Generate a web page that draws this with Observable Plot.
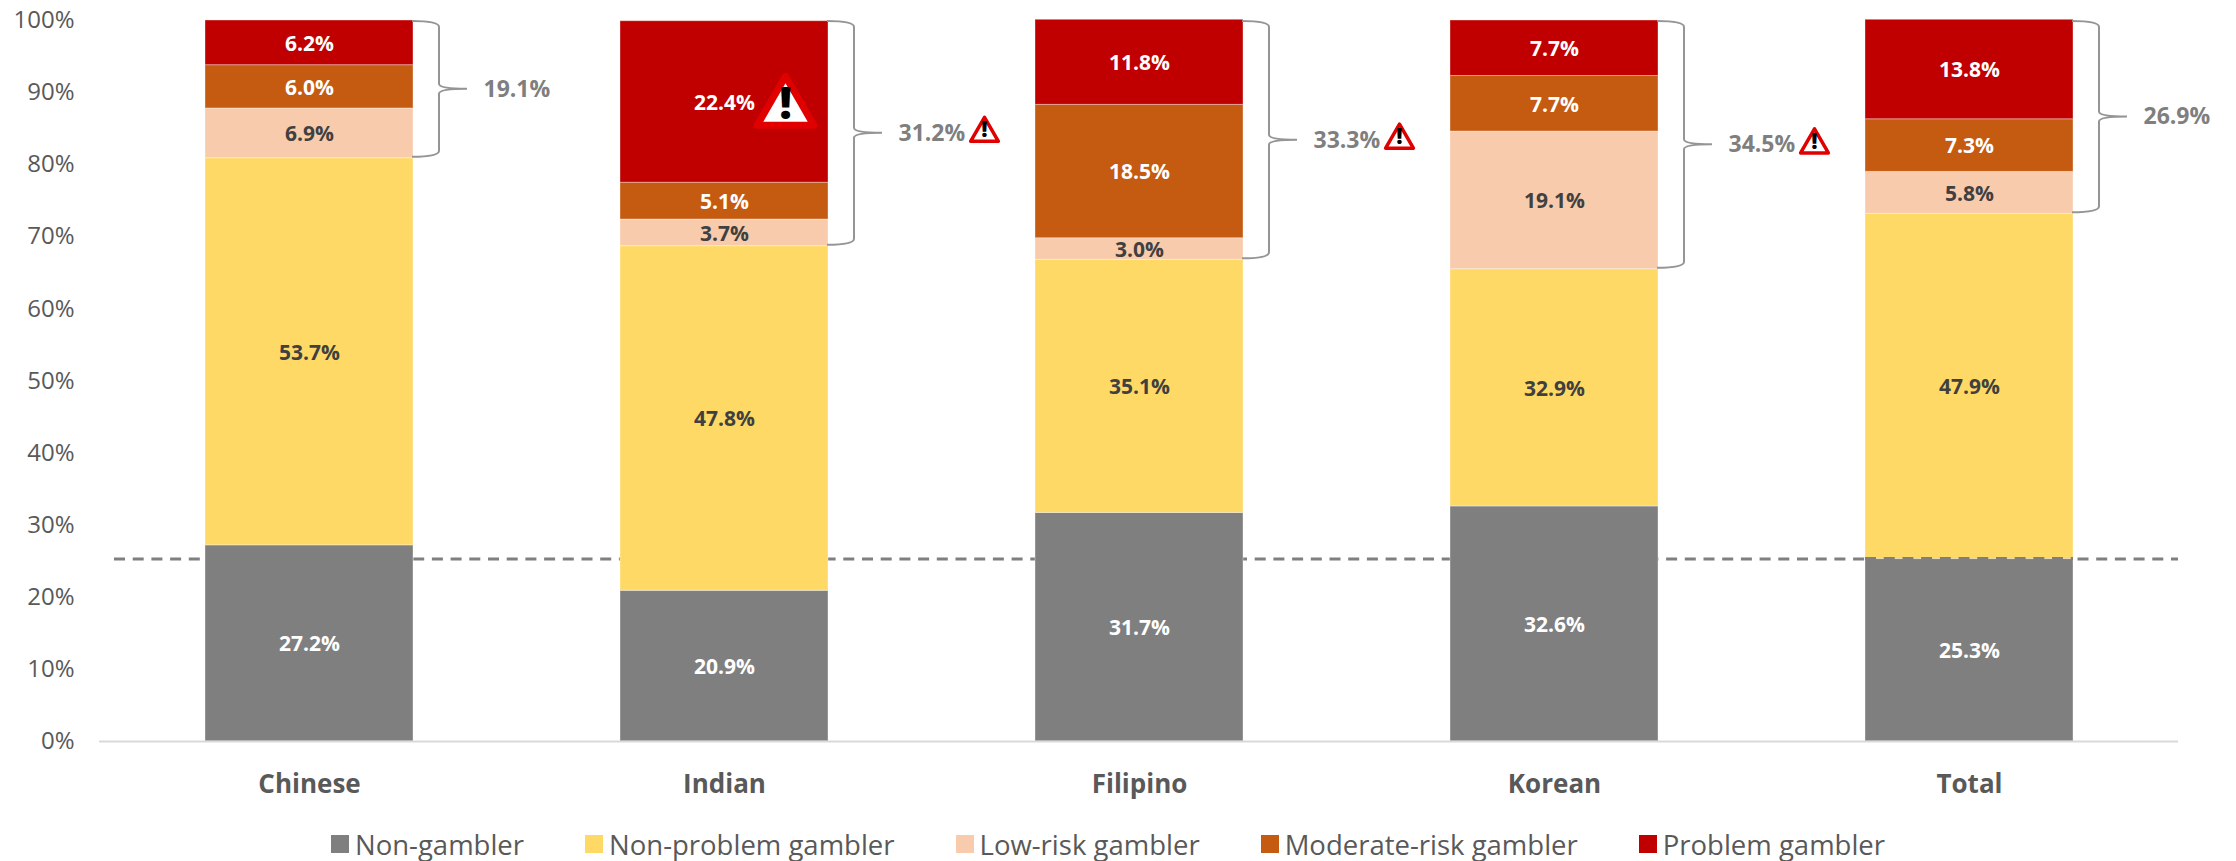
<!DOCTYPE html>
<html><head><meta charset="utf-8">
<script src="https://cdn.jsdelivr.net/npm/d3@7"></script>
<script src="https://cdn.jsdelivr.net/npm/@observablehq/plot@0.6"></script>
<style>
html,body{margin:0;padding:0;background:#fff;overflow:hidden}
#legend{display:flex;justify-content:center;gap:61px;font:27.5px "Open Sans",sans-serif;color:#595959;height:46px;align-items:center;padding-right:20px}
#legend span.i{display:flex;align-items:center;gap:6px}
#legend i{display:inline-block;width:18px;height:18px}
svg{display:block}
</style></head><body>
<div id="chart"></div><div id="legend"></div>
<script>
const groups = ["Chinese","Indian","Filipino","Korean","Total"];
const categories = ["Non-gambler","Non-problem gambler","Low-risk gambler","Moderate-risk gambler","Problem gambler"];
const colors = ["#7f7f7f","#ffd966","#f8cbad","#c55a11","#c00000"];
const labelColors = ["#fff","#404040","#404040","#fff","#fff"];
const nonGambler = [27.2,20.9,31.7,32.6,25.3];
const nonProblem = [53.7,47.8,35.1,32.9,47.9];
const lowRisk = [6.9,3.7,3.0,19.1,5.8];
const moderateRisk = [6.0,5.1,18.5,7.7,7.3];
const problem = [6.2,22.4,11.8,7.7,13.8];
const atRisk = [19.1,31.2,33.3,34.5,26.9];
const warned = [false,true,true,true,false];
const totalLine = 25.3;
const series = [nonGambler,nonProblem,lowRisk,moderateRisk,problem];
const rows = series.flatMap((vals,s)=>vals.map((v,g)=>({group:groups[g],cat:categories[s],v,s})));
const braces = groups.map((group,i)=>({group,lo:nonGambler[i]+nonProblem[i],hi:100,label:atRisk[i].toFixed(1)+"%",warned:warned[i]}));
braces.forEach(b=>b.mid=(b.lo+b.hi)/2);

function braceMark(){
  return (index,{x,y},values,dim,ctx)=>{
    const g=d3.select(ctx.document.createElementNS("http://www.w3.org/2000/svg","g"));
    for(const b of braces){
      const x0=x(b.group)+x.bandwidth()-1, xc=x0+27, xt=xc+28;
      const yt=y(b.hi)+1, yb=y(b.lo)-1, ym=y(b.mid);
      g.append("path").attr("fill","none").attr("stroke","#959595").attr("stroke-width",2)
       .attr("d",`M${x0},${yt}Q${xc},${yt} ${xc},${yt+6}V${ym-5}Q${xc},${ym} ${xt},${ym}Q${xc},${ym} ${xc},${ym+5}V${yb-6}Q${xc},${yb} ${x0},${yb}`);
    }
    return g.node();
  };
}
function totalDash(){
  return (index,{x,y},values,dim,ctx)=>{
    const g=d3.select(ctx.document.createElementNS("http://www.w3.org/2000/svg","line"));
    g.attr("x1",x("Total")).attr("x2",x("Total")+x.bandwidth()).attr("y1",y(totalLine)).attr("y2",y(totalLine))
     .attr("stroke","#7f7f7f").attr("stroke-width",3).attr("stroke-dasharray","11,7.7");
    return g.node();
  };
}
const wb = braces.filter(b=>b.warned);
const bigWarn = [{group:"Indian",y:nonGambler[1]+nonProblem[1]+lowRisk[1]+moderateRisk[1]+problem[1]/2}];

const plot = Plot.plot({
  width:2236,height:821,
  marginLeft:99,marginRight:58,marginTop:20,marginBottom:80,
  style:{fontFamily:"'Open Sans',sans-serif",background:"#fff"},
  x:{domain:groups,paddingInner:0.5,paddingOuter:0.25,label:null,tickSize:0},
  y:{domain:[0,100],ticks:d3.range(0,101,10),tickFormat:d=>d+"%",label:null,tickSize:0},
  color:{domain:categories,range:colors},
  marks:[
    Plot.ruleY([totalLine],{stroke:"#7f7f7f",strokeWidth:3,strokeDasharray:"11,7.7",insetLeft:15}),
    Plot.barY(rows,{x:"group",y:"v",fill:"cat",order:categories,stroke:"#fff",strokeOpacity:0.35,strokeWidth:1}),
    totalDash(),
    Plot.ruleY([0],{stroke:"#d9d9d9",strokeWidth:2}),
    Plot.axisY({ticks:d3.range(0,101,10),tickFormat:d=>d+"%",tickSize:0,tickPadding:25,fontSize:24,color:"#595959",label:null}),
    Plot.axisX({tickSize:0,tickPadding:33,fontSize:26,fontWeight:700,color:"#595959",label:null}),
    Plot.text(rows,Plot.stackY({x:"group",y:"v",order:categories,text:d=>d.v.toFixed(1)+"%",fill:d=>labelColors[d.s],fontSize:21,fontWeight:700,dy:1})),
    braceMark(),
    Plot.text(braces,{x:"group",y:"mid",text:"label",textAnchor:"start",dx:174,fontSize:23,fontWeight:700,fill:"#7f7f7f"}),
    Plot.dot(wb,{x:"group",y:"mid",symbol:"triangle",r:10.3,dx:260,dy:0,fill:"#fff",stroke:"#e00000",strokeWidth:3.5,strokeLinejoin:"round"}),
    Plot.text(wb,{x:"group",y:"mid",text:()=>"!",dx:260,dy:-3,fontSize:22,fontWeight:800,fill:"#000"}),
    Plot.dot(bigWarn,{x:"group",y:"y",symbol:"triangle",r:21,dx:61,dy:7,fill:"#fff",stroke:"#e00000",strokeWidth:7,strokeLinejoin:"round"}),
    Plot.text(bigWarn,{x:"group",y:"y",text:()=>"!",dx:61,dy:3,fontSize:44,fontWeight:800,fill:"#000"})
  ]
});
document.getElementById("chart").append(plot);
const lg=d3.select("#legend");
categories.forEach((c,i)=>{const s=lg.append("span").attr("class","i");s.append("i").style("background",colors[i]);s.append("span").text(c);});
</script></body></html>
